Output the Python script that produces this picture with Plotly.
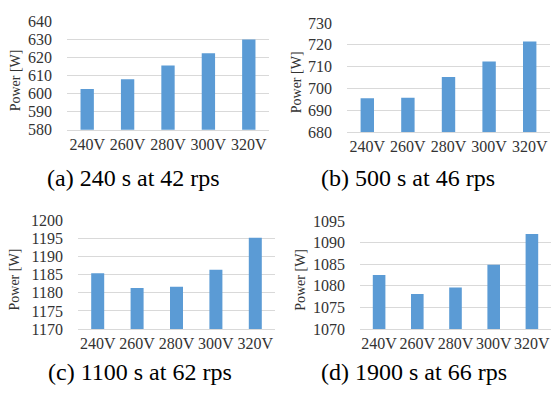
import plotly.graph_objects as go

W, H = 551, 407

categories = ["240V", "260V", "280V", "300V", "320V"]
power_a = [602.6, 607.9, 615.6, 622.3, 630.0]
power_b = [695.4, 695.7, 705.2, 712.3, 721.5]
power_c = [1185.4, 1181.3, 1181.7, 1186.4, 1195.2]
power_d = [1082.5, 1078.1, 1079.6, 1084.9, 1092.0]
captions = ["(a) 240 s at 42 rps", "(b) 500 s at 46 rps",
            "(c) 1100 s at 62 rps", "(d) 1900 s at 66 rps"]
y_ranges = [(580, 640, 10), (680, 730, 10), (1170, 1200, 5), (1070, 1095, 5)]

boxes = [(67, 269, 14, 127), (347, 550, 15.7, 129.3),
         (78, 275, 221.7, 335), (360, 551, 222.3, 335)]
title_x = [15, 296, 15, 301]
cap_pos = [(133, 177), (408, 177), (140, 380), (414, 380)]

FONT = "Times"
BLUE = "#5B9BD5"
GRID = "#D9D9D9"

fig = go.Figure()
series = [power_a, power_b, power_c, power_d]
layout = dict(width=W, height=H, margin=dict(l=0, r=0, t=0, b=0),
              paper_bgcolor="white", plot_bgcolor="white", showlegend=False,
              bargap=0.67, annotations=[], font=dict(family=FONT))

for i, vals in enumerate(series):
    n = "" if i == 0 else str(i + 1)
    fig.add_trace(go.Bar(x=categories, y=vals, marker_color=BLUE,
                         marker_line_width=0, xaxis="x" + n, yaxis="y" + n))
    x0, x1, yt, yb = boxes[i]
    lo, hi, dt = y_ranges[i]
    layout["xaxis" + n] = dict(domain=[x0 / W, x1 / W], anchor="y" + n,
                               showgrid=False, showline=True, linecolor=GRID,
                               linewidth=1, ticks="", ticklabelstandoff=0,
                               tickfont=dict(family=FONT, size=16, color="#333333"),
                               fixedrange=True)
    layout["yaxis" + n] = dict(domain=[1 - yb / H, 1 - yt / H], anchor="x" + n,
                               range=[lo, hi], dtick=dt, tick0=lo,
                               showgrid=True, gridcolor=GRID, gridwidth=1,
                               zeroline=False, showline=False, ticks="",
                               ticklabelstandoff=14,
                               tickfont=dict(family=FONT, size=16, color="#333333"))
    layout["annotations"].append(dict(
        text="Power [W]", textangle=-90, x=title_x[i] / W,
        y=1 - ((yt + yb) / 2 + 5) / H, xref="paper", yref="paper",
        showarrow=False, font=dict(family=FONT, size=14, color="#333333"),
        xanchor="center", yanchor="middle"))
    cx, cy = cap_pos[i]
    layout["annotations"].append(dict(
        text=captions[i], x=cx / W, y=1 - cy / H, xref="paper", yref="paper",
        showarrow=False, font=dict(family=FONT, size=24, color="black"),
        xanchor="center", yanchor="middle"))

fig.update_layout(**layout)
fig.write_html("out.html")
